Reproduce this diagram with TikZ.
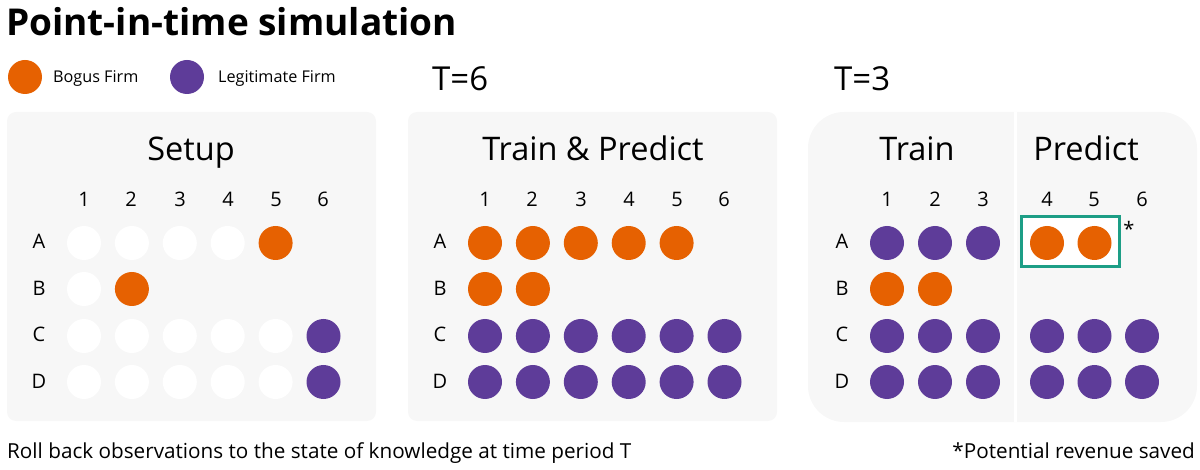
\documentclass[tikz,border=0pt]{standalone}
\usepackage{fontspec}
\setmainfont{Open Sans}
\definecolor{bogus}{HTML}{E66101}
\definecolor{legit}{HTML}{5E3C99}
\definecolor{panelbg}{HTML}{F7F7F7}
\definecolor{teal}{HTML}{1D9E86}
\begin{document}
\begin{tikzpicture}[x=1pt,y=-1pt,
  dot/.style={circle,minimum size=34pt,inner sep=0pt,draw=none},
  wdot/.style={dot,fill=white},
  odot/.style={dot,fill=bogus},
  pdot/.style={dot,fill=legit},
  panel/.style={fill=panelbg,draw=none},
  ptitle/.style={anchor=base,inner sep=0pt,font=\fontsize{32.5}{38}\selectfont},
  colnum/.style={inner sep=0pt,font=\fontsize{20}{24}\selectfont},
  rowlab/.style={inner sep=0pt,font=\fontsize{20}{24}\selectfont},
  legtext/.style={anchor=base west,inner sep=0pt,font=\fontsize{16.2}{19}\selectfont},
  foottext/.style={inner sep=0pt,font=\fontsize{20.7}{24}\selectfont},
  ttext/.style={anchor=base west,inner sep=0pt,font=\fontsize{33}{38}\selectfont}]
\useasboundingbox (0,0) rectangle (1200,470);
% title
\node[anchor=base west,inner sep=0pt,font=\bfseries\fontsize{37}{42}\selectfont] (title) at (6,36) {Point-in-time simulation};
% legend
\node[odot] (lego) at (25,77) {};
\node[legtext] (legot) at (53,83) {Bogus Firm};
\node[pdot] (legp) at (187,77) {};
\node[legtext] (legpt) at (218,83) {Legitimate Firm};
\node[ttext] (t6) at (432,91) {T=6};
\node[ttext] (t3) at (834,91) {T=3};
% panels
\fill[panel,rounded corners=9pt] (7,112) rectangle (376,421);
\fill[panel,rounded corners=9pt] (408,112) rectangle (777,421);
\fill[panel,rounded corners=36pt] (808,112) rectangle (1197,422);
\draw[white,line width=3pt] (1015,112) -- (1015,422);
% panel titles
\node[ptitle] (p1t) at (191,161) {Setup};
\node[ptitle] (p2t) at (593,161) {Train \& Predict};
\node[ptitle] (p3t) at (917,161) {Train};
\node[ptitle] (p4t) at (1086,161) {Predict};
% row letters
\foreach \r/\y in {A/241,B/288,C/334,D/381}{
  \node[rowlab] (s-\r) at (39,\y) {\r};
  \node[rowlab] (t-\r) at (440,\y) {\r};
  \node[rowlab] (u-\r) at (842,\y) {\r};
}
% column numbers
\foreach \c/\x in {1/84,2/131,3/180,4/228,5/276,6/323}{
  \node[colnum] (sc\c) at (\x,199.5) {\c};
  \pgfmathsetmacro{\xx}{\x+401}
  \node[colnum] (tc\c) at (\xx,199.5) {\c};
}
\foreach \c/\x in {1/887,2/935,3/983,4/1047,5/1094,6/1142}{
  \node[colnum] (uc\c) at (\x,199.5) {\c};
}
% setup dots
\foreach \r/\y/\list in {A/243/{w,w,w,w,o,n},B/289/{w,o,n,n,n,n},C/336/{w,w,w,w,w,p},D/382/{w,w,w,w,w,p}}{
  \foreach \k [count=\c] in \list {
    \pgfmathsetmacro{\x}{84+47.9*(\c-1)}
    \if\k n\else \node[\k dot] (sd-\r\c) at (\x,\y) {};\fi
  }
}
% train & predict dots
\foreach \r/\y/\list in {A/243/{o,o,o,o,o,n},B/289/{o,o,n,n,n,n},C/336/{p,p,p,p,p,p},D/382/{p,p,p,p,p,p}}{
  \foreach \k [count=\c] in \list {
    \pgfmathsetmacro{\x}{485+47.9*(\c-1)}
    \if\k n\else \node[\k dot] (td-\r\c) at (\x,\y) {};\fi
  }
}
% teal box
\draw[teal,line width=3pt,fill=white] (1021,217) rectangle (1119,267);
\node[inner sep=0pt,font=\fontsize{20}{24}\selectfont] (star) at (1129,229) {*};
% T=3 dots
\foreach \r/\y/\list in {A/243/{p,p,p,o,o,n},B/289/{o,o,n,n,n,n},C/336/{p,p,p,p,p,p},D/382/{p,p,p,p,p,p}}{
  \foreach \k [count=\c] in \list {
    \ifnum\c<4 \pgfmathsetmacro{\x}{887+48*(\c-1)}\else\pgfmathsetmacro{\x}{1047+47.5*(\c-4)}\fi
    \if\k n\else \node[\k dot] (ud-\r\c) at (\x,\y) {};\fi
  }
}
% footer
\node[foottext,anchor=base west] (foot) at (7,458) {Roll back observations to the state of knowledge at time period T};
\node[foottext,anchor=base east] (foot2) at (1195,458) {*Potential revenue saved};
\end{tikzpicture}
\end{document}
